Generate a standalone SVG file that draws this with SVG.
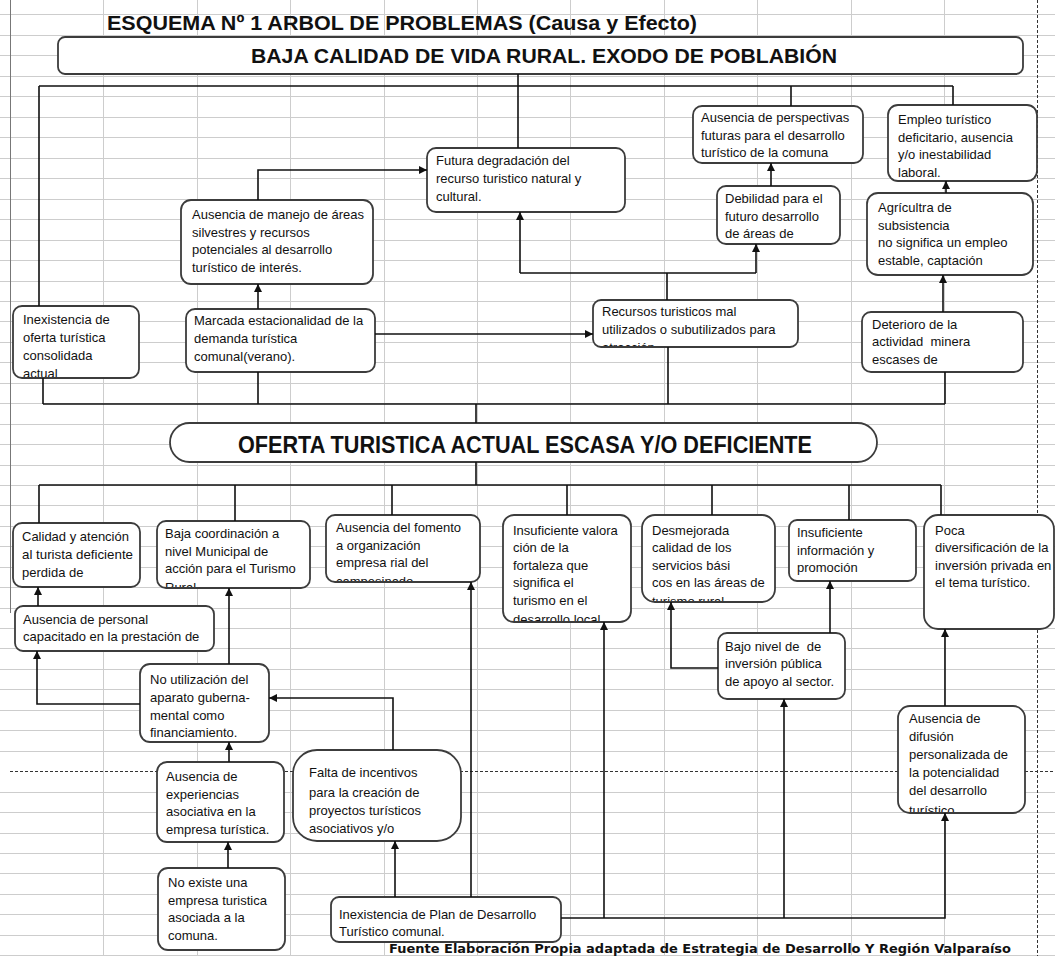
<svg xmlns="http://www.w3.org/2000/svg" width="1055" height="956" viewBox="0 0 1055 956">
<style>
.grid{stroke:#cdcdcd;stroke-width:1;fill:none}
.pb{stroke:#333;stroke-width:1;stroke-dasharray:3 2;fill:none}
.box{fill:#fff;stroke:#3c3c3c;stroke-width:1.8}
.t{font-family:"Liberation Sans",Arial,sans-serif;font-size:13px;fill:#111}
.h{font-family:"Liberation Sans",Arial,sans-serif;font-weight:bold;fill:#111}
.c{stroke:#111;stroke-width:1.6;fill:none}
.a{marker-end:url(#arr)}
</style>
<defs>
<marker id="arr" viewBox="0 0 10 10" refX="10" refY="5" markerWidth="8" markerHeight="8" markerUnits="userSpaceOnUse" orient="auto"><path d="M0,0 L10,5 L0,10 z" fill="#111"/></marker>
<clipPath id="cInex"><rect x="14" y="307" width="124" height="70"/></clipPath>
<clipPath id="cRec"><rect x="594" y="301" width="203" height="45"/></clipPath>
<clipPath id="cBaja"><rect x="158" y="522" width="151" height="65"/></clipPath>
<clipPath id="cFom"><rect x="327" y="516" width="152" height="65"/></clipPath>
<clipPath id="cVal"><rect x="504" y="516" width="126" height="105"/></clipPath>
<clipPath id="cDes"><rect x="643" y="516" width="131" height="85"/></clipPath>
<clipPath id="cDif"><rect x="899" y="707" width="125" height="105"/></clipPath>
</defs>
<rect width="1055" height="956" fill="#fff"/>
<g id="grid">
<path class="grid" d="M0,14.5H1055M0,35.5H1055M0,55.5H1055M0,76.5H1055M0,96.5H1055M0,117.5H1055M0,137.5H1055M0,158.5H1055M0,178.5H1055M0,199.5H1055M0,219.5H1055M0,240.5H1055M0,260.5H1055M0,281.5H1055M0,301.5H1055M0,321.5H1055M0,342.5H1055M0,362.5H1055M0,383.5H1055M0,403.5H1055M0,424.5H1055M0,444.5H1055M0,465.5H1055M0,485.5H1055M0,505.5H1055M0,526.5H1055M0,546.5H1055M0,567.5H1055M0,587.5H1055M0,608.5H1055M0,628.5H1055M0,648.5H1055M0,669.5H1055M0,689.5H1055M0,710.5H1055M0,730.5H1055M0,751.5H1055M0,792.5H1055M0,812.5H1055M0,833.5H1055M0,853.5H1055M0,873.5H1055M0,894.5H1055M0,914.5H1055M0,935.5H1055M0,955.5H1055"/>
<path class="grid" d="M103.5,0V956M197.5,0V956M290.5,0V956M384.5,0V956M477.5,0V956M570.5,0V956M664.5,0V956M757.5,0V956M851.5,0V956M944.5,0V956"/>
<path d="M10.5,0V613" stroke="#777" stroke-width="1" fill="none"/>
<path class="pb" d="M1037.5,0V956M10,771.5H1055"/>
</g>
<text id="title" class="h" x="107" y="30" font-size="20" textLength="590" lengthAdjust="spacingAndGlyphs">ESQUEMA Nº 1 ARBOL DE PROBLEMAS (Causa y Efecto)</text>
<g id="n-baja-calidad">
<rect class="box" x="58" y="37" width="965" height="37" rx="7"/>
<text class="h" x="251" y="63" font-size="20" textLength="586" lengthAdjust="spacingAndGlyphs">BAJA CALIDAD DE VIDA RURAL. EXODO DE POBLABIÓN</text>
</g>
<g id="n-futura">
<rect class="box" x="427" y="148" width="198" height="64" rx="9"/>
<text class="t"><tspan x="436" y="165">Futura degradación del</tspan><tspan x="436" y="183">recurso turistico natural y</tspan><tspan x="436" y="201">cultural.</tspan></text>
</g>
<g id="n-perspectivas">
<rect class="box" x="693" y="106" width="170" height="57" rx="9"/>
<text class="t"><tspan x="701" y="122">Ausencia de perspectivas</tspan><tspan x="701" y="140">futuras para el desarrollo</tspan><tspan x="701" y="157">turístico de la comuna</tspan></text>
</g>
<g id="n-debilidad">
<rect class="box" x="717" y="186" width="123" height="58" rx="9"/>
<text class="t"><tspan x="725" y="203">Debilidad para el</tspan><tspan x="725" y="221">futuro desarrollo</tspan><tspan x="725" y="238">de áreas de</tspan></text>
</g>
<g id="n-empleo">
<rect class="box" x="888" y="105" width="149" height="76" rx="10"/>
<text class="t"><tspan x="898" y="124">Empleo turístico</tspan><tspan x="898" y="142">deficitario, ausencia</tspan><tspan x="898" y="159">y/o inestabilidad</tspan><tspan x="898" y="177">laboral.</tspan></text>
</g>
<g id="n-agricultura">
<rect class="box" x="867" y="193" width="166" height="82" rx="11"/>
<text class="t"><tspan x="878" y="212">Agrícultra de</tspan><tspan x="878" y="230">subsistencia</tspan><tspan x="878" y="247">no significa un empleo</tspan><tspan x="878" y="265">estable, captación</tspan></text>
</g>
<g id="n-deterioro">
<rect class="box" x="862" y="312" width="161" height="60" rx="9"/>
<text class="t"><tspan x="872" y="329">Deterioro de la</tspan><tspan x="872" y="346" xml:space="preserve">actividad  minera</tspan><tspan x="872" y="364">escases de</tspan></text>
</g>
<g id="n-manejo">
<rect class="box" x="181" y="200" width="192" height="84" rx="10"/>
<text class="t"><tspan x="192" y="219">Ausencia de manejo de áreas</tspan><tspan x="192" y="237">silvestres y recursos</tspan><tspan x="192" y="254">potenciales al desarrollo</tspan><tspan x="192" y="272">turístico de interés.</tspan></text>
</g>
<g id="n-marcada">
<rect class="box" x="186" y="309" width="189" height="63" rx="9"/>
<text class="t"><tspan x="194" y="325">Marcada estacionalidad de la</tspan><tspan x="194" y="343">demanda turística</tspan><tspan x="194" y="361">comunal(verano).</tspan></text>
</g>
<g id="n-inexistencia-oferta">
<rect class="box" x="13" y="306" width="126" height="72" rx="9"/>
<text class="t" clip-path="url(#cInex)"><tspan x="23" y="324">Inexistencia de</tspan><tspan x="23" y="342">oferta turística</tspan><tspan x="23" y="360">consolidada</tspan><tspan x="23" y="378">actual</tspan></text>
</g>
<g id="n-recursos">
<rect class="box" x="593" y="300" width="205" height="47" rx="8"/>
<text class="t" clip-path="url(#cRec)"><tspan x="602" y="316">Recursos turisticos mal</tspan><tspan x="602" y="334">utilizados o subutilizados para</tspan><tspan x="602" y="352">atracción</tspan></text>
</g>
<g id="n-oferta">
<rect class="box" x="170" y="423" width="707" height="39" rx="19.5"/>
<text class="h" x="238" y="453" font-size="24" textLength="574" lengthAdjust="spacingAndGlyphs">OFERTA TURISTICA ACTUAL ESCASA Y/O DEFICIENTE</text>
</g>
<g id="n-calidad">
<rect class="box" x="13" y="523" width="127" height="64" rx="9"/>
<text class="t"><tspan x="22" y="541">Calidad y atención</tspan><tspan x="22" y="559" textLength="111" lengthAdjust="spacingAndGlyphs">al turista deficiente</tspan><tspan x="22" y="577">perdida de</tspan></text>
</g>
<g id="n-baja-coordinacion">
<rect class="box" x="157" y="521" width="153" height="67" rx="9"/>
<text class="t" clip-path="url(#cBaja)"><tspan x="165" y="538">Baja coordinación a</tspan><tspan x="165" y="556">nivel Municipal de</tspan><tspan x="165" y="573">acción para el Turismo</tspan><tspan x="165" y="592">Rural</tspan></text>
</g>
<g id="n-fomento">
<rect class="box" x="326" y="515" width="154" height="67" rx="9"/>
<text class="t" clip-path="url(#cFom)"><tspan x="336" y="532">Ausencia del fomento</tspan><tspan x="336" y="550">a organización</tspan><tspan x="336" y="567">empresa rial del</tspan><tspan x="336" y="586">campesinado</tspan></text>
</g>
<g id="n-valoracion">
<rect class="box" x="503" y="515" width="128" height="107" rx="11"/>
<text class="t" clip-path="url(#cVal)"><tspan x="513" y="535">Insuficiente valora</tspan><tspan x="513" y="552">ción de la</tspan><tspan x="513" y="570">fortaleza que</tspan><tspan x="513" y="587">significa el</tspan><tspan x="513" y="605">turismo en el</tspan><tspan x="513" y="624">desarrollo local</tspan></text>
</g>
<g id="n-desmejorada">
<rect class="box" x="642" y="515" width="133" height="87" rx="13"/>
<text class="t" clip-path="url(#cDes)"><tspan x="652" y="535">Desmejorada</tspan><tspan x="652" y="552">calidad de los</tspan><tspan x="652" y="570">servicios bási</tspan><tspan x="652" y="587">cos en las áreas de</tspan><tspan x="652" y="606">turismo rural</tspan></text>
</g>
<g id="n-informacion">
<rect class="box" x="789" y="520" width="127" height="61" rx="8"/>
<text class="t"><tspan x="797" y="537">Insuficiente</tspan><tspan x="797" y="555">información y</tspan><tspan x="797" y="572">promoción</tspan></text>
</g>
<g id="n-poca">
<rect class="box" x="924" y="515" width="130" height="114" rx="14"/>
<text class="t"><tspan x="935" y="535">Poca</tspan><tspan x="935" y="552">diversificación de la</tspan><tspan x="935" y="570">inversión privada en</tspan><tspan x="935" y="587">el tema turístico.</tspan></text>
</g>
<g id="n-personal">
<rect class="box" x="15" y="606" width="199" height="45" rx="8"/>
<text class="t"><tspan x="23" y="624">Ausencia de personal</tspan><tspan x="23" y="641">capacitado en la prestación de</tspan></text>
</g>
<g id="n-no-utilizacion">
<rect class="box" x="140" y="664" width="129" height="78" rx="10"/>
<text class="t"><tspan x="150" y="684">No utilización del</tspan><tspan x="150" y="702">aparato guberna-</tspan><tspan x="150" y="720">mental como</tspan><tspan x="150" y="737">financiamiento.</tspan></text>
</g>
<g id="n-bajo-nivel">
<rect class="box" x="718" y="633" width="127" height="66" rx="9"/>
<text class="t"><tspan x="725" y="651" xml:space="preserve">Bajo nivel de  de</tspan><tspan x="725" y="668">inversión pública</tspan><tspan x="725" y="686">de apoyo al sector.</tspan></text>
</g>
<g id="n-difusion">
<rect class="box" x="898" y="706" width="127" height="107" rx="12"/>
<text class="t" clip-path="url(#cDif)"><tspan x="909" y="723">Ausencia de</tspan><tspan x="909" y="741">difusión</tspan><tspan x="909" y="759">personalizada de</tspan><tspan x="909" y="777">la potencialidad</tspan><tspan x="909" y="795">del desarrollo</tspan><tspan x="909" y="815">turístico</tspan></text>
</g>
<g id="n-experiencias">
<rect class="box" x="157" y="762" width="127" height="80" rx="10"/>
<text class="t"><tspan x="166" y="781">Ausencia de</tspan><tspan x="166" y="799">experiencias</tspan><tspan x="166" y="816">asociativa en la</tspan><tspan x="166" y="834">empresa turística.</tspan></text>
</g>
<g id="n-falta">
<rect class="box" x="293" y="750" width="168" height="91" rx="24"/>
<text class="t"><tspan x="309" y="777">Falta de incentivos</tspan><tspan x="309" y="797">para la creación de</tspan><tspan x="309" y="815">proyectos turísticos</tspan><tspan x="309" y="833">asociativos y/o</tspan></text>
</g>
<g id="n-no-existe">
<rect class="box" x="158" y="868" width="127" height="82" rx="10"/>
<text class="t"><tspan x="168" y="887">No existe una</tspan><tspan x="168" y="905">empresa turistica</tspan><tspan x="168" y="922">asociada a la</tspan><tspan x="168" y="940">comuna.</tspan></text>
</g>
<g id="n-plan">
<rect class="box" x="331" y="897" width="230" height="45" rx="8"/>
<text class="t"><tspan x="339" y="919">Inexistencia de Plan de Desarrollo</tspan><tspan x="339" y="936">Turístico comunal.</tspan></text>
</g>
<g id="connectors">
<path class="c" d="M518,74V148"/>
<path class="c" d="M39,86H953M39,86V306M791,86V106M953,86V105"/>
<path class="c a" d="M258,200V170H427"/>
<path class="c a" d="M258,309V284"/>
<path class="c a" d="M375,334H593"/>
<path class="c" d="M667,300V273M520,273H756"/>
<path class="c a" d="M520,273V212"/>
<path class="c a" d="M756,273V244"/>
<path class="c a" d="M771,186V163"/>
<path class="c a" d="M946,193V181"/>
<path class="c a" d="M943,312V275"/>
<path class="c" d="M43,404H945M43,378V404M258,372V404M668,347V404M945,372V404M476,404V423"/>
<path class="c" d="M476,462V485M39,485H941M39,485V523M235,485V521M392,485V515M567,485V515M712,485V515M849,485V520M941,485V515"/>
<path class="c a" d="M38,606V587"/>
<path class="c a" d="M229,664V588"/>
<path class="c a" d="M140,704H37V651"/>
<path class="c a" d="M393,750V698H269"/>
<path class="c a" d="M229,762V742"/>
<path class="c a" d="M228,868V842"/>
<path class="c a" d="M395,897V841"/>
<path class="c a" d="M471,897V582"/>
<path class="c a" d="M561,918H945V813"/>
<path class="c a" d="M604,918V622"/>
<path class="c a" d="M784,918V699"/>
<path class="c a" d="M718,668H671V602"/>
<path class="c a" d="M830,633V581"/>
<path class="c a" d="M945,706V629"/>
</g>
<text id="footer" x="389" y="953" font-family="'DejaVu Sans',Verdana,sans-serif" font-weight="bold" font-size="12" fill="#111" textLength="622" lengthAdjust="spacingAndGlyphs">Fuente Elaboración Propia adaptada de Estrategia de Desarrollo Y Región Valparaíso</text>
</svg>
